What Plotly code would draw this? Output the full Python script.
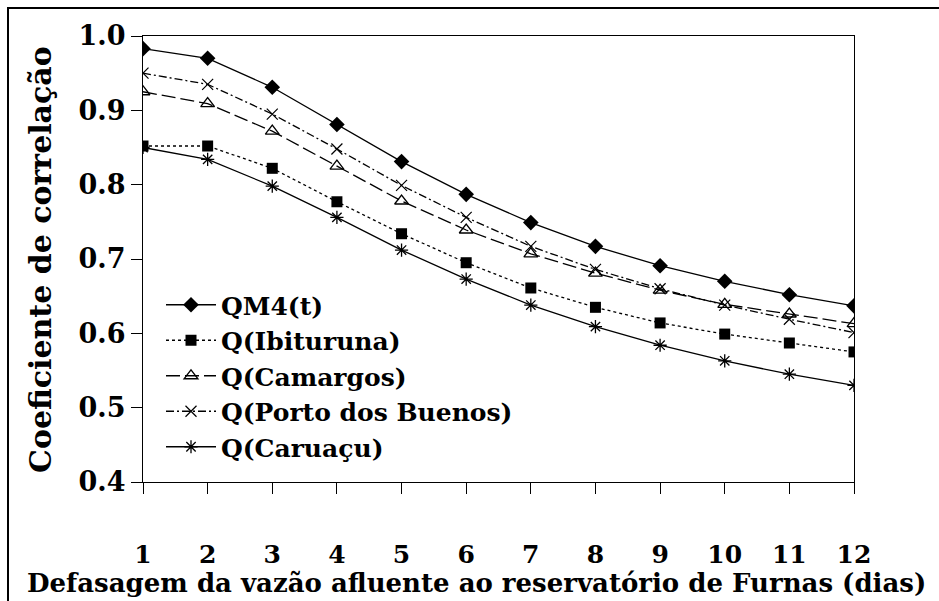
import plotly.graph_objects as go

# ── Data ─────────────────────────────────────────────────────────────────────
dias = [1, 2, 3, 4, 5, 6, 7, 8, 9, 10, 11, 12]

qm4 = [0.983, 0.970, 0.931, 0.881, 0.831, 0.787, 0.749, 0.717, 0.691, 0.670, 0.652, 0.637]
ibituruna = [0.852, 0.852, 0.822, 0.777, 0.734, 0.695, 0.661, 0.635, 0.614, 0.599, 0.587, 0.575]
camargos = [0.925, 0.909, 0.872, 0.825, 0.778, 0.739, 0.707, 0.681, 0.658, 0.639, 0.626, 0.613]
porto_buenos = [0.950, 0.935, 0.895, 0.848, 0.799, 0.756, 0.717, 0.686, 0.660, 0.638, 0.619, 0.601]
caruacu = [0.850, 0.834, 0.798, 0.756, 0.712, 0.673, 0.638, 0.609, 0.584, 0.563, 0.545, 0.530]

y_ticks = [0.4, 0.5, 0.6, 0.7, 0.8, 0.9, 1.0]
y_ticktext = ["0.4", "0.5", "0.6", "0.7", "0.8", "0.9", "1.0"]

x_title = "Defasagem da vazão afluente ao reservatório de Furnas (dias)"
y_title = "Coeficiente de correlação"

FONT = "DejaVu Serif"

# plot area in pixels: x 143..854, y 36..482
L, R, T, B = 143, 854, 36, 482


def px_x(p):
    return (p - L) / (R - L)


def px_y(p):
    return (B - p) / (B - T)


series = [
    ("QM4(t)", qm4, "solid", dict(symbol="diamond", size=12, color="black")),
    ("Q(Ibituruna)", ibituruna, "3px,3px", dict(symbol="square", size=11, color="black")),
    ("Q(Camargos)", camargos, "14px,5px", dict(symbol="triangle-up-open", size=12, color="black",
                                               line=dict(color="black", width=1.3))),
    ("Q(Porto dos Buenos)", porto_buenos, "8px,3px,2px,3px", dict(symbol="x-thin-open", size=11, color="black",
                                                                   line=dict(color="black", width=1.2))),
    ("Q(Caruaçu)", caruacu, "solid", dict(symbol="asterisk-open", size=11, color="black",
                                          line=dict(color="black", width=1.3))),
]

fig = go.Figure()
for name, vals, dash, marker in series:
    fig.add_trace(go.Scatter(
        x=dias, y=vals, name=name,
        mode="lines+markers",
        line=dict(color="black", width=1.3, dash=dash),
        marker=marker,
    ))

fig.update_layout(
    width=939, height=601,
    paper_bgcolor="white", plot_bgcolor="white",
    margin=dict(l=L, r=939 - R, t=T, b=601 - B),
    font=dict(family=FONT, color="black", size=24),
    legend=dict(
        x=px_x(161), y=px_y(282), xanchor="left", yanchor="top",
        bgcolor="rgba(0,0,0,0)",
        font=dict(family=FONT, size=25, weight="bold"),
        itemwidth=50, tracegroupgap=0,
    ),
    showlegend=True,
)

fig.update_xaxes(
    range=[1, 12], tickvals=dias, automargin=False,
    showline=True, linecolor="black", linewidth=1.3, mirror=True,
    ticks="outside", ticklen=11, tickcolor="black", tickwidth=1.3,
    ticklabelstandoff=39,
    tickfont=dict(family=FONT, size=25, weight="bold"),
    showgrid=False, zeroline=False,
)
fig.update_yaxes(
    range=[0.4, 1.0], tickvals=y_ticks, ticktext=y_ticktext, automargin=False,
    showline=True, linecolor="black", linewidth=1.3, mirror=True,
    ticks="outside", ticklen=11, tickcolor="black", tickwidth=1.3,
    tickfont=dict(family=FONT, size=27, weight="bold"),
    showgrid=False, zeroline=False,
)

# axis titles as annotations, placed like the original
fig.add_annotation(text=x_title, xref="paper", yref="paper",
                   x=px_x(476), y=px_y(583), xanchor="center", yanchor="middle",
                   showarrow=False, font=dict(family=FONT, size=26, weight="bold"))
fig.add_annotation(text=y_title, xref="paper", yref="paper", textangle=-90,
                   x=px_x(40), y=px_y(260), xanchor="center", yanchor="middle",
                   showarrow=False, font=dict(family=FONT, size=30, weight="bold"))

# outer frame (only left and top edges visible in the crop)
fig.add_shape(type="rect", xref="paper", yref="paper",
              x0=px_x(8), x1=1.2, y0=-0.4, y1=px_y(8),
              line=dict(color="black", width=2), layer="below")

fig.write_html("out.html", config={"displayModeBar": False},
               post_script="document.body.style.margin='0';")
